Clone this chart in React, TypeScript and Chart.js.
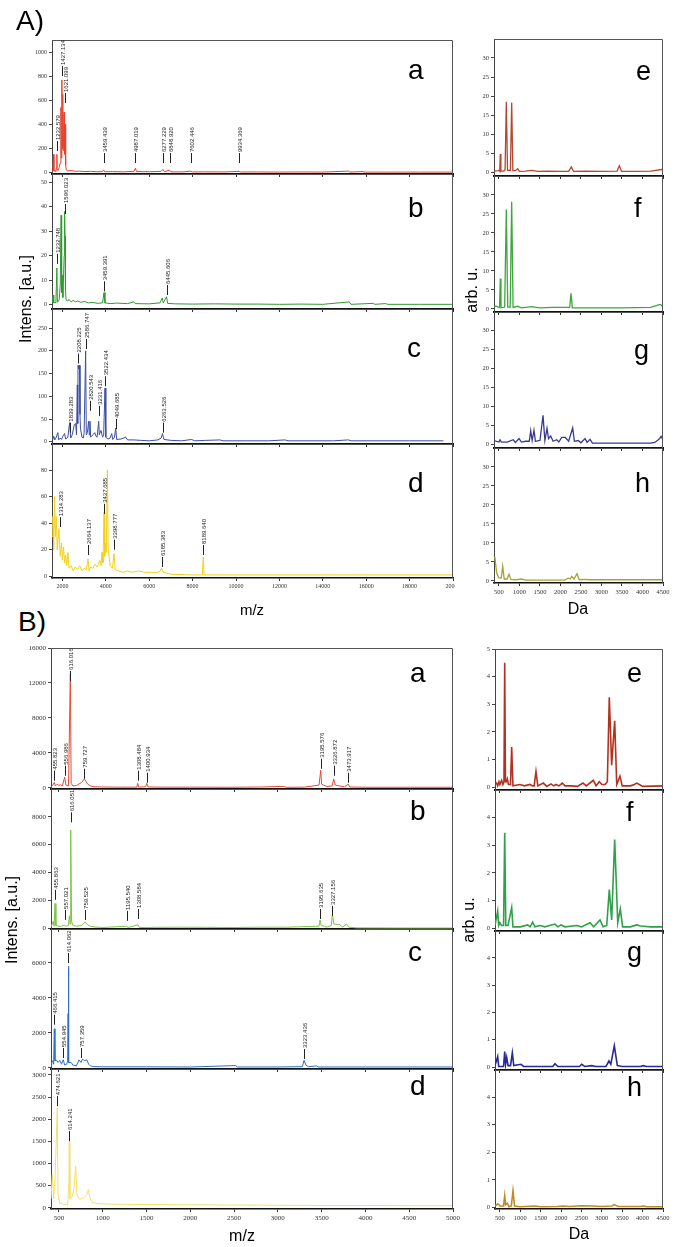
import React, { useEffect, useRef } from "react";
import { Chart, registerables } from "chart.js";
Chart.register(...registerables);

type Pt = [number, number];
type Lbl = [string, number, number];

// ---------- Figure A, mass spectra (m/z, intensity) ----------
const A_a: Pt[] = [[1520, 8], [1560, 30], [1590, 150], [1610, 10], [1660, 12], [1700, 8], [1730, 40], [1745, 150], [1760, 30], [1800, 15], [1850, 40], [1900, 80], [1930, 540], [1950, 120], [1975, 770], [1995, 200], [2015, 650], [2040, 180], [2075, 500], [2100, 150], [2125, 400], [2150, 60], [2180, 20], [2250, 12], [2400, 15], [2600, 8], [2800, 10], [3000, 6], [3300, 8], [3600, 5], [3850, 6], [3900, 20], [3950, 5], [4300, 6], [4800, 4], [5300, 8], [5365, 35], [5420, 6], [6000, 5], [6550, 8], [6630, 25], [6700, 5], [6940, 18], [7000, 4], [7600, 4], [7920, 10], [7980, 3], [8500, 4], [9500, 3], [10140, 8], [10200, 3], [11000, 3], [12000, 2], [13000, 3], [14000, 2], [15180, 10], [15250, 2], [15850, 6], [15900, 2], [17000, 2], [18500, 2], [20000, 2]];
const A_b: Pt[] = [[1520, 3], [1545, 1], [1570, 4], [1600, 0.8], [1700, 1], [1745, 15], [1770, 1], [1850, 2], [1900, 8], [1940, 36.5], [1965, 5], [1990, 12], [2020, 3], [2080, 20], [2100, 38], [2120, 28], [2140, 6], [2170, 2], [2250, 1.5], [2300, 2.2], [2400, 1.2], [2500, 1.8], [2600, 1.2], [2700, 1.6], [2850, 1], [3000, 1.4], [3200, 0.8], [3400, 1], [3600, 0.6], [3850, 0.8], [3917, 5], [3960, 0.8], [4200, 0.5], [4500, 0.7], [5000, 0.5], [5290, 1.2], [5350, 0.5], [6000, 0.4], [6500, 0.8], [6600, 2.8], [6650, 0.8], [6800, 3.3], [6850, 0.6], [7200, 0.4], [8000, 0.3], [9000, 0.4], [10000, 0.3], [11000, 0.3], [12000, 0.2], [13000, 0.3], [14000, 0.2], [15220, 1.2], [15300, 0.2], [16330, 0.6], [16400, 0.2], [16890, 0.5], [17000, 0.2], [18500, 0.2], [20000, 0.2]];
const A_c: Pt[] = [[1520, 10], [1550, 5], [1600, 12], [1650, 4], [1700, 8], [1790, 20], [1830, 4], [1900, 8], [1960, 5], [2020, 12], [2100, 18], [2150, 6], [2250, 10], [2332, 42], [2380, 8], [2450, 15], [2550, 38], [2610, 40], [2650, 15], [2686, 125], [2705, 40], [2720, 168], [2760, 160], [2790, 168], [2810, 60], [2830, 30], [2900, 10], [2960, 8], [3000, 20], [3071, 200], [3100, 15], [3150, 20], [3210, 45], [3240, 15], [3270, 45], [3300, 10], [3400, 15], [3490, 20], [3550, 12], [3600, 10], [3671, 45], [3700, 15], [3780, 25], [3850, 10], [3900, 15], [3963, 118], [4000, 10], [4100, 6], [4200, 8], [4270, 18], [4320, 5], [4400, 10], [4457, 30], [4500, 5], [4700, 6], [4920, 10], [5000, 4], [5300, 4], [5600, 3], [6000, 2], [6400, 4], [6550, 8], [6610, 18], [6680, 5], [7000, 3], [7500, 2], [7950, 5], [8100, 2], [8600, 3], [9260, 4], [9400, 2], [10500, 2], [11500, 2], [12260, 4], [12400, 2], [13500, 2], [14500, 2], [15180, 4], [15300, 2], [16500, 2], [18000, 2], [19560, 2]];
const A_d: Pt[] = [[1520, 30], [1560, 45], [1600, 20], [1640, 60], [1680, 30], [1720, 45], [1760, 20], [1840, 36], [1900, 15], [1960, 25], [2000, 12], [2055, 22], [2100, 10], [2150, 16], [2200, 8], [2255, 18], [2300, 6], [2400, 8], [2500, 4], [2600, 7], [2700, 5], [2795, 8], [2900, 4], [3000, 6], [3100, 5], [3180, 13], [3230, 4], [3300, 7], [3400, 6], [3500, 9], [3600, 7], [3720, 12], [3780, 8], [3825, 18], [3870, 10], [3917, 48], [3950, 15], [3990, 25], [4020, 18], [4072, 80], [4110, 20], [4200, 8], [4300, 6], [4380, 17], [4430, 5], [4600, 4], [4800, 3], [5000, 4], [5200, 3], [5500, 4], [5800, 3], [6100, 3], [6400, 3], [6500, 4], [6567, 6], [6650, 3], [7000, 1.5], [8000, 1], [8450, 1], [8490, 14.6], [8530, 1], [9000, 1], [10000, 1], [12000, 1], [14000, 1], [16000, 1], [18000, 1], [20000, 1]];

// peak labels: [text, m/z, intensity at tick foot]
const A_a_peaks: Lbl[] = [["1232.579", 1745, 177], ["1427.134", 1990, 802], ["1621.099", 2133, 577], ["3459.439", 3902, 77], ["4987.019", 5367, 77], ["6277.229", 6643, 77], ["6848.920", 6966, 77], ["7602.446", 7922, 77], ["9934.369", 10139, 77]];
const A_b_peaks: Lbl[] = [["1232.748", 1745, 16.7], ["1596.023", 2100, 37], ["3459.391", 3917, 5.5], ["6445.606", 6800, 4]];
const A_c_peaks: Lbl[] = [["1839.283", 2332, 20], ["2208.225", 2701, 172], ["2586.747", 3071, 204], ["2820.543", 3270, 68], ["3231.416", 3671, 57], ["3522.434", 3963, 122], ["4049.685", 4457, 28], ["6263.526", 6628, 20]];
const A_d_peaks: Lbl[] = [["1314.283", 1870, 37], ["2664.137", 3180, 16], ["3437.685", 3917, 47], ["3398.777", 4380, 20], ["6185.383", 6567, 7], ["8189.640", 8490, 16]];

// ---------- Figure A, profiles (Da, arb. u.) ----------
const A_e: Pt[] = [[380, 0.3], [480, 0.4], [510, 0.5], [520, 0.3], [534, 4.8], [548, 0.3], [620, 0.3], [650, 0.6], [680, 18.5], [710, 0.5], [780, 0.5], [811, 18.3], [840, 0.4], [900, 0.4], [957, 0.9], [1000, 0.2], [1150, 0.3], [1300, 0.5], [1450, 0.2], [1700, 0.3], [2000, 0.2], [2200, 0.2], [2265, 1.4], [2320, 0.2], [2600, 0.3], [3000, 0.2], [3380, 0.3], [3436, 1.7], [3490, 0.2], [3800, 0.2], [4200, 0.3], [4468, 0.7], [4500, 0.5]];
const A_f: Pt[] = [[380, 0.5], [430, 0.8], [480, 0.5], [515, 0.4], [534, 8], [550, 0.3], [640, 0.5], [680, 26.2], [715, 0.5], [775, 0.5], [811, 28.2], [845, 0.4], [957, 0.7], [1050, 0.3], [1300, 0.6], [1500, 0.3], [1800, 0.4], [2100, 0.4], [2225, 0.4], [2257, 4.1], [2290, 0.3], [2800, 0.3], [3500, 0.3], [4200, 0.4], [4427, 1.2], [4500, 0.7]];
const A_g: Pt[] = [[380, 1], [500, 0.6], [526, 1.2], [560, 0.6], [700, 0.6], [850, 1.2], [900, 0.5], [990, 1.5], [1050, 0.6], [1150, 0.8], [1240, 0.8], [1275, 3.6], [1310, 1], [1355, 3.7], [1390, 0.8], [1500, 1], [1575, 7.6], [1620, 1], [1672, 4.2], [1710, 1.5], [1762, 2.2], [1820, 0.8], [1909, 1.2], [1960, 0.6], [2030, 1.8], [2120, 1.8], [2200, 0.8], [2298, 4.3], [2340, 0.8], [2435, 1], [2500, 0.4], [2600, 1.5], [2650, 0.5], [2720, 1.3], [2780, 0.3], [3500, 0.3], [4200, 0.3], [4300, 0.5], [4386, 1.2], [4420, 1.5], [4452, 2.1], [4500, 1.2]];
const A_h: Pt[] = [[380, 6.3], [404, 6], [446, 2], [500, 0.8], [560, 0.8], [592, 3.9], [630, 0.5], [700, 0.5], [746, 1.8], [790, 0.4], [900, 0.3], [1055, 0.5], [1150, 0.2], [1600, 0.2], [2100, 0.2], [2192, 0.7], [2240, 0.5], [2274, 1.2], [2330, 0.5], [2403, 1.9], [2460, 0.3], [2600, 0.4], [2700, 0.3], [3500, 0.3], [4500, 0.3]];

// ---------- Figure B, mass spectra ----------
const B_a: Pt[] = [[410, 100], [430, 300], [448, 600], [460, 200], [480, 400], [500, 250], [520, 350], [540, 200], [566, 1200], [580, 300], [610, 200], [631, 13100], [640, 500], [660, 200], [700, 250], [760, 600], [791, 1000], [810, 700], [830, 400], [860, 200], [900, 100], [1000, 80], [1200, 60], [1390, 60], [1400, 500], [1410, 60], [1490, 100], [1503, 500], [1520, 80], [1700, 60], [2000, 60], [2500, 50], [2800, 80], [3060, 150], [3100, 50], [3300, 60], [3470, 300], [3490, 2000], [3500, 400], [3520, 300], [3560, 150], [3620, 200], [3638, 1000], [3655, 300], [3700, 200], [3760, 100], [3806, 400], [3820, 80], [4000, 50], [4500, 50], [5000, 50]];
const B_b: Pt[] = [[410, 100], [436, 500], [446, 150], [456, 1780], [466, 200], [490, 150], [530, 150], [566, 220], [580, 150], [610, 200], [620, 900], [628, 300], [635, 7050], [645, 500], [660, 200], [700, 150], [760, 200], [790, 400], [798, 460], [830, 250], [860, 150], [900, 100], [1000, 60], [1274, 150], [1290, 60], [1404, 250], [1420, 60], [1600, 70], [1900, 80], [2200, 70], [2500, 60], [2800, 80], [3100, 80], [3470, 150], [3482, 600], [3495, 200], [3530, 150], [3560, 80], [3610, 200], [3623, 1000], [3640, 300], [3700, 280], [3740, 100], [3787, 300], [3810, 80], [3900, 30], [4500, 20], [5000, 20]];
const B_c: Pt[] = [[410, 100], [418, 300], [430, 400], [440, 200], [448, 2230], [455, 400], [470, 450], [490, 300], [510, 420], [530, 200], [551, 460], [565, 150], [590, 200], [600, 400], [605, 3100], [608, 5800], [615, 300], [640, 300], [660, 150], [700, 100], [730, 450], [753, 300], [770, 500], [790, 400], [818, 450], [840, 200], [860, 100], [900, 60], [1000, 50], [1500, 50], [2000, 40], [2519, 120], [2540, 40], [3000, 40], [3280, 60], [3299, 420], [3320, 150], [3350, 60], [3444, 100], [3460, 40], [4000, 40], [4500, 40], [5000, 40]];
const B_d: Pt[] = [[410, 200], [425, 750], [440, 200], [455, 600], [470, 1500], [482, 2260], [490, 300], [510, 100], [550, 80], [600, 60], [615, 600], [619, 1500], [625, 200], [650, 250], [670, 400], [692, 940], [705, 300], [730, 200], [770, 200], [798, 250], [820, 300], [836, 410], [850, 250], [880, 120], [950, 90], [1100, 80], [1500, 70], [2000, 65], [2500, 60], [3000, 55], [3500, 50], [4000, 50], [4500, 45], [5000, 45]];

const B_a_peaks: Lbl[] = [["455.823", 448, 800], ["556.986", 566, 1370], ["616.016", 631, 12230], ["759.727", 791, 1030], ["1308.484", 1400, 800], ["1400.934", 1503, 570], ["3195.576", 3490, 2170], ["3326.872", 3638, 1370], ["3473.917", 3806, 570]];
const B_b_peaks: Lbl[] = [["455.863", 456, 2040], ["557.021", 566, 600], ["616.051", 635, 7600], ["759.525", 798, 600], ["1195.540", 1274, 530], ["1308.584", 1404, 670], ["3195.635", 3482, 670], ["3327.156", 3623, 890]];
const B_c_peaks: Lbl[] = [["466.415", 448, 2460], ["554.945", 551, 555], ["614.062", 608, 6000], ["757.359", 753, 555], ["3323.436", 3299, 500]];
const B_d_peaks: Lbl[] = [["474.621", 482, 2295], ["614.241", 619, 1505]];

// ---------- Figure B, profiles ----------
const B_e: Pt[] = [[380, 0.1], [420, 0.15], [445, 0.05], [478, 0.2], [500, 0.1], [544, 0.25], [575, 0.1], [600, 0.2], [618, 4.5], [636, 0.2], [660, 0.2], [682, 0.3], [710, 0.1], [760, 0.1], [789, 1.45], [820, 0.05], [993, 0.1], [1100, 0.05], [1238, 0.1], [1300, 0.05], [1340, 0.05], [1385, 0.57], [1430, 0.05], [1565, 0.15], [1650, 0.03], [1753, 0.12], [1820, 0.05], [1876, 0.1], [1950, 0.05], [2030, 0.15], [2100, 0.05], [2250, 0.05], [2400, 0.03], [2537, 0.15], [2620, 0.05], [2790, 0.25], [2860, 0.05], [2938, 0.2], [3000, 0.1], [3080, 0.1], [3135, 0.2], [3183, 3.25], [3241, 0.8], [3315, 2.4], [3365, 0.1], [3445, 0.4], [3500, 0.05], [3700, 0.05], [3800, 0.1], [3855, 0.15], [3920, 0.1], [4000, 0.03], [4500, 0.05]];
const B_f: Pt[] = [[380, 0.1], [446, 0.62], [470, 0.1], [500, 0.2], [540, 0.1], [590, 0.1], [618, 3.45], [645, 0.1], [700, 0.1], [789, 0.75], [820, 0.05], [1000, 0.05], [1181, 0.12], [1240, 0.05], [1304, 0.22], [1360, 0.05], [1483, 0.1], [1600, 0.05], [1851, 0.15], [1920, 0.05], [2000, 0.12], [2100, 0.05], [2383, 0.1], [2500, 0.05], [2710, 0.2], [2800, 0.05], [2955, 0.3], [3030, 0.05], [3120, 0.1], [3183, 1.4], [3241, 0.3], [3315, 3.2], [3390, 0.2], [3453, 0.7], [3510, 0.05], [3700, 0.05], [3855, 0.12], [3950, 0.08], [4200, 0.05], [4500, 0.05]];
const B_g: Pt[] = [[380, 0.05], [446, 0.38], [470, 0.02], [590, 0.02], [618, 0.57], [640, 0.1], [667, 0.35], [700, 0.05], [760, 0.05], [805, 0.52], [840, 0.05], [1018, 0.1], [1080, 0.02], [1800, 0.02], [1851, 0.12], [1920, 0.02], [2450, 0.02], [2506, 0.1], [2580, 0.02], [2751, 0.05], [2850, 0.02], [3100, 0.02], [3175, 0.22], [3220, 0.1], [3306, 0.78], [3380, 0.05], [3500, 0.02], [3950, 0.02], [4016, 0.05], [4100, 0.02], [4500, 0.02]];
const B_h: Pt[] = [[380, 0.05], [446, 0.12], [475, 0.1], [500, 0.05], [590, 0.05], [618, 0.42], [640, 0.1], [682, 0.15], [720, 0.02], [780, 0.05], [821, 0.6], [860, 0.05], [1000, 0.02], [1361, 0.05], [1500, 0.02], [1900, 0.03], [2050, 0.05], [2200, 0.03], [2506, 0.06], [2750, 0.05], [3000, 0.03], [3250, 0.05], [3306, 0.1], [3400, 0.03], [3950, 0.03], [4016, 0.05], [4100, 0.02], [4500, 0.02]];

interface PanelCfg {
  id: string;
  area: [number, number, number, number];
  x: [number, number, number];
  y: [number, number, number];
  data: Pt[];
  color: string;
  lw: number;
  labels?: Lbl[];
  xTicks: boolean;
  tickFont: number;
  padR: number;
}

const AL_X: [number, number, number] = [1520, 20000, 2000];
const AR_X: [number, number, number] = [380, 4500, 500];
const BL_X: [number, number, number] = [410, 5000, 500];

const PANELS: PanelCfg[] = [
  { id: "Aa", area: [52, 40, 453, 174], x: AL_X, y: [-14, 1102, 200], data: A_a, color: "#e5432d", lw: 1, labels: A_a_peaks, xTicks: false, tickFont: 6, padR: 4 },
  { id: "Ab", area: [52, 174, 453, 309], x: AL_X, y: [-1.7, 53.3, 10], data: A_b, color: "#2f9a2f", lw: 1, labels: A_b_peaks, xTicks: false, tickFont: 6, padR: 4 },
  { id: "Ac", area: [52, 309, 453, 444], x: AL_X, y: [-5, 292, 50], data: A_c, color: "#3c4ea3", lw: 1, labels: A_c_peaks, xTicks: false, tickFont: 6, padR: 4 },
  { id: "Ad", area: [52, 444, 453, 578], x: AL_X, y: [-1.3, 99.6, 20], data: A_d, color: "#f2cf1d", lw: 1, labels: A_d_peaks, xTicks: true, tickFont: 6, padR: 2 },
  { id: "Ae", area: [494, 39, 663, 176], x: AR_X, y: [-1, 34.99, 5], data: A_e, color: "#b4472f", lw: 1.3, xTicks: false, tickFont: 6.5, padR: 10 },
  { id: "Af", area: [494, 176, 663, 312], x: AR_X, y: [-0.8, 34.99, 5], data: A_f, color: "#3ea63e", lw: 1.3, xTicks: false, tickFont: 6.5, padR: 10 },
  { id: "Ag", area: [494, 312, 663, 448], x: AR_X, y: [-0.97, 34.8, 5], data: A_g, color: "#3a3a92", lw: 1.3, xTicks: false, tickFont: 6.5, padR: 10 },
  { id: "Ah", area: [494, 448, 663, 583], x: AR_X, y: [-0.55, 34.99, 5], data: A_h, color: "#a8a232", lw: 1.3, xTicks: true, tickFont: 6.5, padR: 10 },
  { id: "Ba", area: [51, 648, 453, 789], x: BL_X, y: [-150, 16000, 4000], data: B_a, color: "#e54a35", lw: 1, labels: B_a_peaks, xTicks: false, tickFont: 7, padR: 10 },
  { id: "Bb", area: [51, 789, 453, 929], x: BL_X, y: [-50, 9990, 2000], data: B_b, color: "#7dc443", lw: 1, labels: B_b_peaks, xTicks: false, tickFont: 7, padR: 10 },
  { id: "Bc", area: [51, 929, 453, 1069], x: BL_X, y: [-75, 7948, 2000], data: B_c, color: "#2a6fc4", lw: 1, labels: B_c_peaks, xTicks: false, tickFont: 7, padR: 10 },
  { id: "Bd", area: [51, 1069, 453, 1209], x: BL_X, y: [-30, 3135, 500], data: B_d, color: "#f3e06a", lw: 1, labels: B_d_peaks, xTicks: true, tickFont: 7, padR: 10 },
  { id: "Be", area: [495, 649, 663, 790], x: AR_X, y: [-0.1, 5, 1], data: B_e, color: "#b2321f", lw: 1.6, xTicks: false, tickFont: 6.5, padR: 10 },
  { id: "Bf", area: [495, 790, 663, 931], x: AR_X, y: [-0.1, 4.99, 1], data: B_f, color: "#31a04a", lw: 1.6, xTicks: false, tickFont: 6.5, padR: 10 },
  { id: "Bg", area: [495, 931, 663, 1070], x: AR_X, y: [-0.11, 4.99, 1], data: B_g, color: "#29299a", lw: 1.6, xTicks: false, tickFont: 6.5, padR: 10 },
  { id: "Bh", area: [495, 1070, 663, 1209], x: AR_X, y: [-0.06, 4.99, 1], data: B_h, color: "#c08b22", lw: 1.6, xTicks: true, tickFont: 6.5, padR: 10 },
];

const PAD_L = 40;
const PAD_T = 6;

function stepTicks(min: number, max: number, step: number) {
  const out: { value: number }[] = [];
  for (let k = Math.ceil(min / step); k * step <= max + 1e-9; k++) out.push({ value: Math.round(k * step * 1000) / 1000 });
  return out;
}

function Panel({ cfg }: { cfg: PanelCfg }) {
  const ref = useRef<HTMLCanvasElement>(null);
  const [l, t, r, b] = cfg.area;
  const padB = cfg.xTicks ? 18 : 6;
  const w = r - l + PAD_L + cfg.padR;
  const h = b - t + PAD_T + padB;

  useEffect(() => {
    if (!ref.current) return;
    const frame = {
      id: "frame" + cfg.id,
      afterDraw(chart: any) {
        const { ctx, chartArea: ca, scales } = chart;
        ctx.save();
        ctx.strokeStyle = "#555";
        ctx.lineWidth = 1;
        ctx.beginPath();
        ctx.moveTo(ca.left, ca.top + 0.5);
        ctx.lineTo(ca.right - 0.5, ca.top + 0.5);
        ctx.lineTo(ca.right - 0.5, ca.bottom);
        ctx.stroke();
        if (cfg.labels) {
          ctx.strokeStyle = "#222";
          ctx.fillStyle = "#222";
          ctx.font = '6px "Liberation Sans", Arial, sans-serif';
          for (const [txt, mx, my] of cfg.labels) {
            const px = Math.round(scales.x.getPixelForValue(mx)) + 0.5;
            const py = scales.y.getPixelForValue(my);
            ctx.beginPath();
            ctx.moveTo(px, py);
            ctx.lineTo(px, py - 10);
            ctx.stroke();
            ctx.save();
            ctx.translate(px, py - 11);
            ctx.rotate(-Math.PI / 2);
            ctx.textAlign = "left";
            ctx.textBaseline = "middle";
            ctx.fillText(txt, 0, 0.5);
            ctx.restore();
          }
        }
        ctx.restore();
      },
    };
    const fit = (size: "w" | "h", v: number) => (s: any) => {
      if (size === "w") s.width = v;
      else s.height = v;
      s.paddingLeft = 0;
      s.paddingRight = 0;
      s.paddingTop = 0;
      s.paddingBottom = 0;
    };
    const font = { family: '"Liberation Serif", "DejaVu Serif", serif', size: cfg.tickFont };
    const chart = new Chart(ref.current, {
      type: "line",
      data: {
        datasets: [
          {
            data: cfg.data.map(([x, y]) => ({ x, y })),
            borderColor: cfg.color,
            borderWidth: cfg.lw,
            pointRadius: 0,
            tension: 0,
            fill: false,
          },
        ],
      },
      options: {
        animation: false,
        responsive: false,
        devicePixelRatio: 1,
        events: [],
        layout: { padding: { left: 0, top: PAD_T, right: cfg.padR, bottom: 0 }, autoPadding: false },
        plugins: { legend: { display: false }, tooltip: { enabled: false } },
        scales: {
          x: {
            type: "linear",
            min: cfg.x[0],
            max: cfg.x[1],
            afterBuildTicks: (s: any) => { s.ticks = stepTicks(cfg.x[0], cfg.x[1], cfg.x[2]); },
            afterFit: fit("h", padB),
            ticks: {
              display: cfg.xTicks,
              autoSkip: false,
              maxRotation: 0,
              padding: 2,
              color: "#333",
              font,
              callback: (v: any) => String(v),
            },
            grid: { drawOnChartArea: false, drawTicks: true, tickLength: 3, color: "#333" },
            border: { display: true, color: "#111", width: cfg.xTicks ? 1.5 : 2 },
          },
          y: {
            type: "linear",
            min: cfg.y[0],
            max: cfg.y[1],
            afterBuildTicks: (s: any) => { s.ticks = stepTicks(cfg.y[0], cfg.y[1], cfg.y[2]); },
            afterFit: fit("w", PAD_L),
            ticks: {
              autoSkip: false,
              padding: 2,
              color: "#333",
              font,
              callback: (v: any) => String(v),
            },
            grid: { drawOnChartArea: false, drawTicks: true, tickLength: 3, color: "#444" },
            border: { display: true, color: "#444", width: 1 },
          },
        },
      } as any,
      plugins: [frame],
    });
    return () => chart.destroy();
  }, [cfg]);

  return (
    <canvas
      ref={ref}
      width={w}
      height={h}
      style={{ position: "absolute", left: l - PAD_L, top: t - PAD_T, width: w, height: h }}
    />
  );
}

const SANS = '"Liberation Sans", Arial, Helvetica, sans-serif';

function Txt({ x, base, size, children, center }: { x: number; base: number; size: number; children: string; center?: boolean }) {
  const style: React.CSSProperties = {
    position: "absolute",
    top: base - 0.8465 * size,
    fontSize: size,
    lineHeight: size + "px",
    fontFamily: SANS,
    color: "#000",
    whiteSpace: "nowrap",
  };
  if (center) {
    style.left = x - 60;
    style.width = 120;
    style.textAlign = "center";
  } else {
    style.left = x;
  }
  return <div style={style}>{children}</div>;
}

function VTxt({ cx, cy, size, children }: { cx: number; cy: number; size: number; children: string }) {
  return (
    <div
      style={{
        position: "absolute",
        left: cx - 80,
        top: cy - size / 2,
        width: 160,
        height: size,
        lineHeight: size + "px",
        fontSize: size,
        fontFamily: SANS,
        textAlign: "center",
        whiteSpace: "nowrap",
        transform: "rotate(-90deg)",
        color: "#000",
      }}
    >
      {children}
    </div>
  );
}

const LETTERS: [string, number, number, number][] = [
  ["a", 408, 80, 28], ["b", 408, 218, 28], ["c", 407, 358, 28], ["d", 408, 493, 28],
  ["e", 636, 81, 27], ["f", 634, 218, 27], ["g", 634, 360, 27], ["h", 635, 493, 27],
  ["a", 410, 683, 28], ["b", 410, 821, 28], ["c", 408, 962, 28], ["d", 410, 1096, 28],
  ["e", 627, 683, 27], ["f", 626, 822, 27], ["g", 627, 962, 27], ["h", 627, 1097, 27],
];

export default function App() {
  return (
    <div style={{ position: "absolute", left: 0, top: 0, width: 675, height: 1247, overflow: "hidden", background: "#fff" }}>
      {PANELS.map((p) => (
        <Panel key={p.id} cfg={p} />
      ))}
      {LETTERS.map(([s, x, bl, f], i) => (
        <Txt key={"L" + i} x={x} base={bl} size={f}>{s}</Txt>
      ))}
      <Txt x={16} base={31} size={28}>A)</Txt>
      <Txt x={18} base={632} size={28}>B)</Txt>
      <VTxt cx={26} cy={299} size={16}>Intens. [a.u.]</VTxt>
      <VTxt cx={12} cy={920} size={16}>Intens. [a.u.]</VTxt>
      <VTxt cx={472} cy={290} size={16}>arb. u.</VTxt>
      <VTxt cx={469} cy={920} size={16}>arb. u.</VTxt>
      <Txt x={252} base={615} size={15} center>m/z</Txt>
      <Txt x={242} base={1242} size={16} center>m/z</Txt>
      <Txt x={578} base={615} size={16} center>Da</Txt>
      <Txt x={579} base={1240} size={16} center>Da</Txt>
    </div>
  );
}
